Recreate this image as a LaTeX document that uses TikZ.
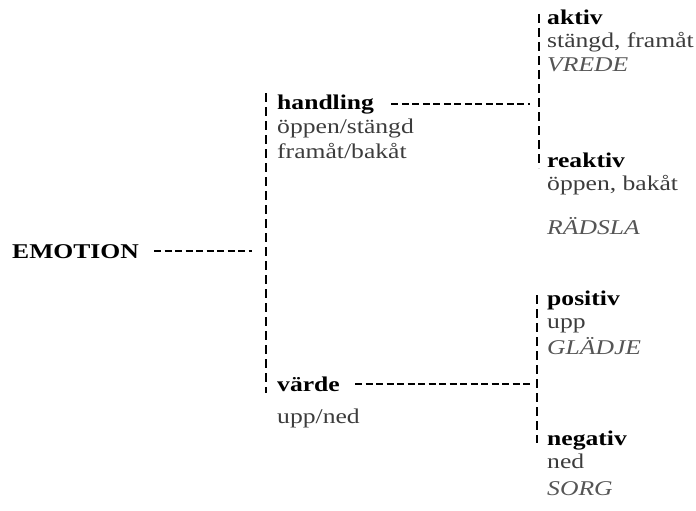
\documentclass[tikz,border=0pt]{standalone}
\usepackage{fontspec}
\setmainfont[FakeStretch=1.22]{Liberation Serif}
\usetikzlibrary{positioning}

\definecolor{subgray}{HTML}{3C3C3C}
\definecolor{feelgray}{HTML}{555555}

\tikzset{
    head/.style={font=\fontsize{21}{24}\selectfont\bfseries, anchor=base west, inner sep=0pt},
    sub/.style={font=\fontsize{21}{24}\selectfont, text=subgray, anchor=base west, inner sep=0pt},
    feel/.style={font=\fontsize{21}{24}\selectfont\itshape, text=feelgray, anchor=base west, inner sep=0pt},
    link/.style={line width=2.8pt, dash pattern=on 9pt off 5pt},
    hlink/.style={line width=2.8pt, dash pattern=on 7pt off 3.5pt}
}

\begin{document}
\begin{tikzpicture}[x=1pt, y=-1pt]
    \useasboundingbox (0,0) rectangle (696,511);

    % Rot
    \node[head] (emotion) at (12,258) {EMOTION};

    % Handling
    \node[head] (handling) at (277,110) {handling};
    \node[sub] (oppstang) at (277,133) {öppen/stängd};
    \node[sub] (frambak) at (277,158) {framåt/bakåt};

    % Värde
    \node[head] (varde) at (277,391) {värde};
    \node[sub] (uppned) at (277,423) {upp/ned};

    % Aktiv / reaktiv
    \node[head] (aktiv) at (547,25) {aktiv};
    \node[sub] (stfram) at (547,48) {stängd, framåt};
    \node[feel] (vrede) at (547,71) {VREDE};
    \node[head] (reaktiv) at (547,167) {reaktiv};
    \node[sub] (oppbak) at (547,190) {öppen, bakåt};
    \node[feel] (radsla) at (547,234) {RÄDSLA};

    % Positiv / negativ
    \node[head] (positiv) at (547,305) {positiv};
    \node[sub] (upp) at (547,328) {upp};
    \node[feel] (gladje) at (547,354) {GLÄDJE};
    \node[head] (negativ) at (547,445) {negativ};
    \node[sub] (ned) at (547,468) {ned};
    \node[feel] (sorg) at (547,495) {SORG};

    % Lodräta linjer
    \coordinate (mtop) at (266,93);
    \coordinate (mbot) at (266,393);
    \coordinate (atop) at (539,14);
    \coordinate (abot) at (539,168);
    \coordinate (ptop) at (537,295);
    \coordinate (pbot) at (537,443);
    \draw[link] (mtop) -- (mbot);
    \draw[link] (atop) -- (abot);
    \draw[link] (ptop) -- (pbot);

    % Vågräta linjer
    \coordinate (emain) at (252,251);
    \coordinate (hright) at (530,104);
    \coordinate (vright) at (530,384);
    \draw[hlink] ([xshift=15pt]emotion.east |- emain) -- (emain);
    \draw[hlink] ([xshift=17pt]handling.east |- hright) -- (hright);
    \draw[hlink] ([xshift=15pt]varde.east |- vright) -- (vright);
\end{tikzpicture}
\end{document}
